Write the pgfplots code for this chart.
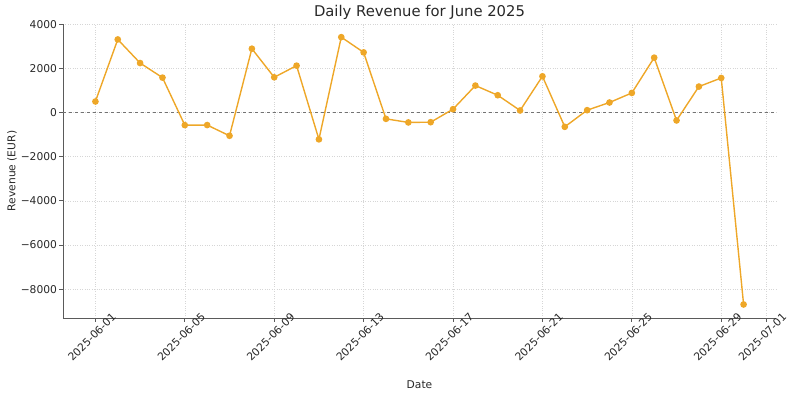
\documentclass[border=0pt]{standalone}
\usepackage{fontspec}
\setmainfont{DejaVu Sans}
\usepackage{pgfplots}
\pgfplotsset{compat=1.18}
\definecolor{lineor}{RGB}{238,167,40}
\definecolor{txt}{RGB}{40,40,40}
\definecolor{spine}{RGB}{90,90,90}
\begin{document}
\begin{tikzpicture}
\useasboundingbox (-63pt,-79pt) rectangle (737pt,318pt);
\begin{axis}[
  at={(0pt,0pt)}, anchor=south west,
  scale only axis, width=713pt, height=294pt,
  xmin=-1.45, xmax=30.45, ymin=-9305, ymax=4005,
  axis lines*=left,
  axis line style={spine, line width=0.8pt, -},
  tick align=outside, major tick length=3.5pt,
  every tick/.style={spine, line width=0.8pt},
  tick pos=left,
  xtick={0,4,8,12,16,20,24,28,30},
  xticklabels={2025-06-01,2025-06-05,2025-06-09,2025-06-13,2025-06-17,2025-06-21,2025-06-25,2025-06-29,2025-07-01},
  ytick={-8000,-6000,-4000,-2000,0,2000,4000},
  yticklabels={−8000,−6000,−4000,−2000,0,2000,4000},
  ticklabel style={font=\fontsize{10.7pt}{12pt}\selectfont, text=txt},
  xticklabel style={rotate=45, anchor=north east, xshift=21pt, yshift=-1pt},
  yticklabel style={xshift=1pt},
  grid=major,
  major grid style={black!16, dotted, line width=0.5pt},
  xlabel={Date}, ylabel={Revenue (EUR)},
  label style={font=\fontsize{10.7pt}{12pt}\selectfont, text=txt},
  xlabel style={at={(axis description cs:0.5,0)}, anchor=south, yshift=-79pt+5pt},
  ylabel style={at={(axis description cs:-0.0715,0.5)}, anchor=center},
  title={Daily Revenue for June 2025},
  title style={font=\fontsize{14.8pt}{17pt}\selectfont, text=txt, yshift=-5pt},
  clip=false,
]
\addplot[black!55, dashed, line width=0.6pt, forget plot] coordinates {(-1.45,0) (30.45,0)};
\addplot[lineor, line width=1.4pt, mark=*, mark size=2.6pt, mark options={fill=lineor, draw=lineor}] coordinates {
(0,496) (1,3306) (2,2237) (3,1578) (4,-573) (5,-570) (6,-1055) (7,2887) (8,1592) (9,2120)
(10,-1218) (11,3410) (12,2720) (13,-289) (14,-451) (15,-440) (16,149) (17,1218) (18,780) (19,90)
(20,1637) (21,-650) (22,104) (23,451) (24,884) (25,2481) (26,-361) (27,1173) (28,1561) (29,-8692)
};
\end{axis}
\end{tikzpicture}
\end{document}
